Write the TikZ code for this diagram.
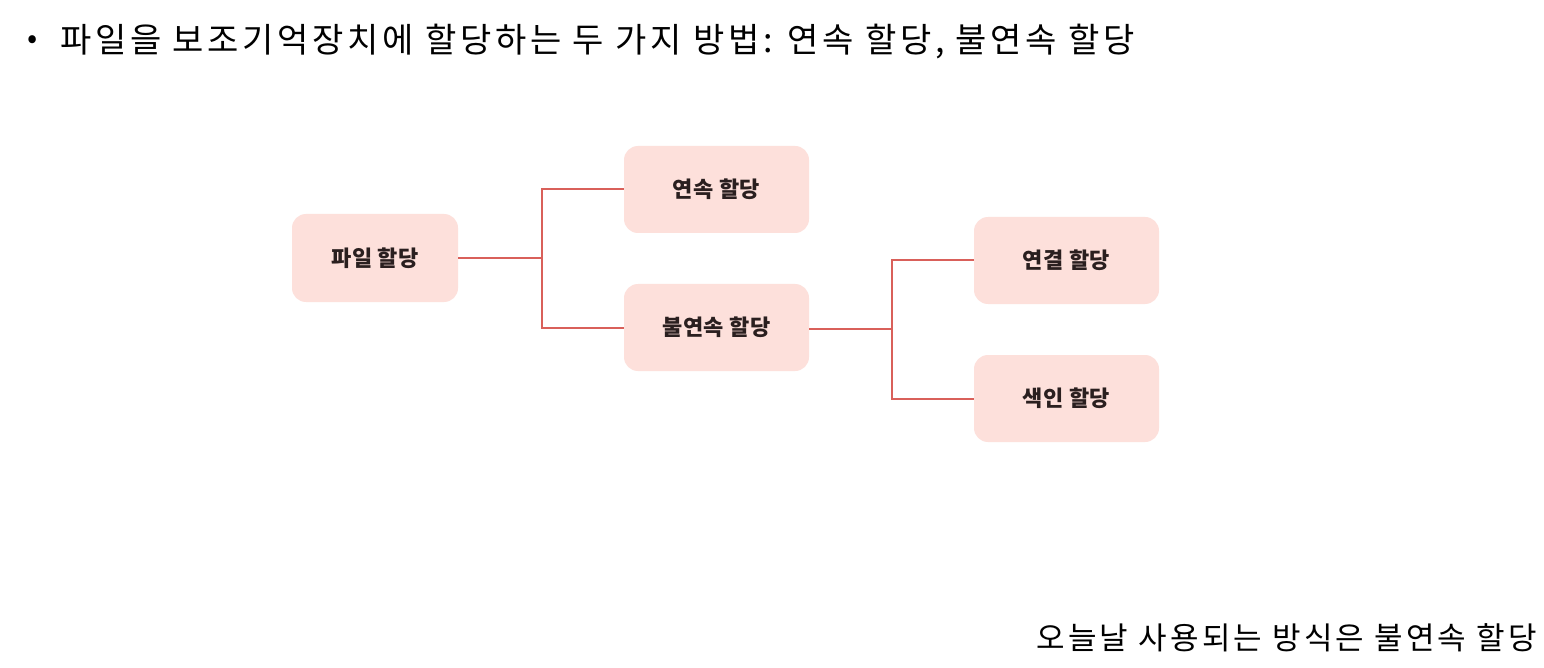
\documentclass[tikz,border=0pt]{standalone}
\usepackage{fontspec}
\newfontfamily\kr{Noto Sans CJK KR}
\newfontfamily\krwide[LetterSpace=10.9]{Noto Sans CJK KR}
\newfontfamily\krnote[LetterSpace=10.3]{Noto Sans CJK KR}
\newfontfamily\krbox[LetterSpace=2]{Noto Sans CJK KR}
\definecolor{boxfill}{HTML}{FDE0DB}
\definecolor{linecol}{HTML}{D9605A}
\definecolor{boxtext}{HTML}{2A1F1F}
\begin{document}
\begin{tikzpicture}[x=1pt,y=-1pt,
  abox/.style={fill=boxfill,rounded corners=14pt,minimum width=185pt,minimum height=87pt,inner sep=0pt,
    font=\krbox\bfseries\fontsize{22}{26}\selectfont,text=boxtext},
  conn/.style={draw=linecol,line width=2pt}]
\fill[white] (0,0) rectangle (1544,668);
\useasboundingbox (0,0) rectangle (1544,668);
\node[anchor=center,font=\kr\fontsize{30}{34}\selectfont] (bul) at (33,42) {•};
\node[anchor=west,inner sep=0pt,font=\krwide\fontsize{34}{40}\selectfont] (title) at (60,42) {파일을 보조기억장치에 할당하는 두 가지 방법: 연속 할당, 불연속 할당};
\node[abox,minimum width=166pt,minimum height=88pt] (file) at (375,258) {파일 할당};
\node[abox] (cont) at (716.5,189.5) {연속 할당};
\node[abox] (noncont) at (716.5,327.5) {불연속 할당};
\node[abox] (link) at (1066.5,260.5) {연결 할당};
\node[abox] (index) at (1066.5,398.5) {색인 할당};
\coordinate (j1) at (542,258);
\coordinate (j2) at (892,329);
\draw[conn] (file.east) -- (j1);
\draw[conn] (cont.west) -| (j1) |- (noncont.west);
\draw[conn] (noncont.east |- j2) -- (j2);
\draw[conn] (link.west) -| (j2) |- (index.west);
\node[anchor=east,inner sep=0pt,font=\krnote\fontsize{31}{36}\selectfont] (note) at (1537,638) {오늘날 사용되는 방식은 불연속 할당};
\end{tikzpicture}
\end{document}
